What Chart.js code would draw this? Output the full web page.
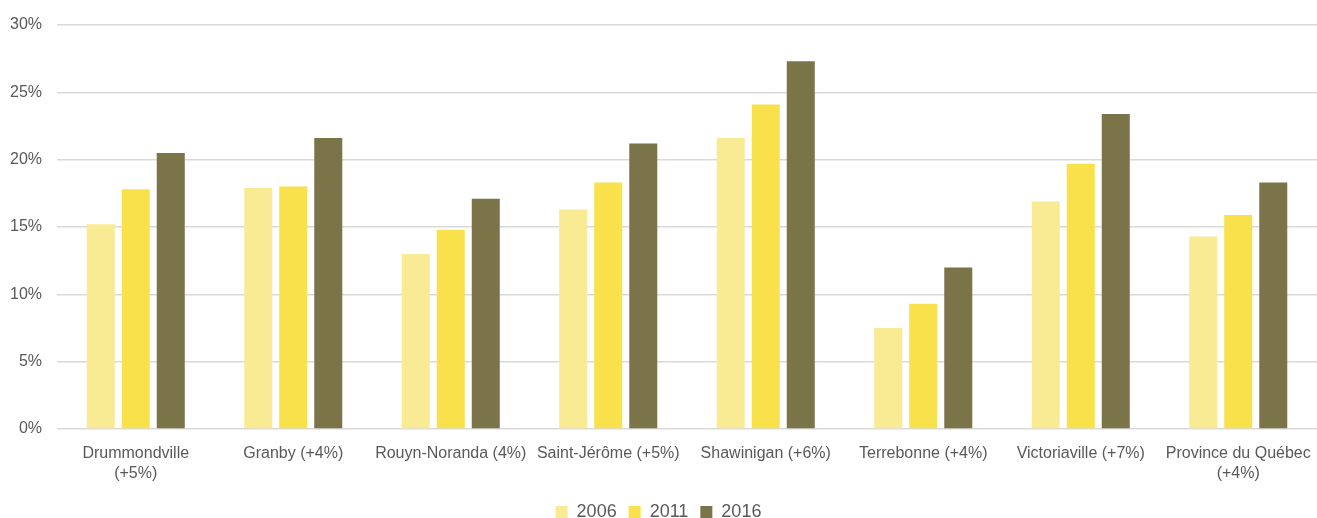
<!DOCTYPE html>
<html>
<head>
<meta charset="utf-8">
<script src="https://cdn.jsdelivr.net/npm/chart.js@4"></script>
<style>
  body { margin: 0; background: #fff; }
  #wrap { width: 1317px; height: 518px; }
</style>
</head>
<body>
<div id="wrap"><canvas id="chart"></canvas></div>
<script>
// Categories (multi-line labels are arrays)
const villes = [
  ["Drummondville", "(+5%)"],
  "Granby (+4%)",
  "Rouyn-Noranda (4%)",
  "Saint-Jérôme (+5%)",
  "Shawinigan (+6%)",
  "Terrebonne (+4%)",
  "Victoriaville (+7%)",
  ["Province du Québec", "(+4%)"]
];

// Percentages per year
const annee2006 = [15.2, 17.9, 13.0, 16.3, 21.6, 7.5, 16.9, 14.3];
const annee2011 = [17.8, 18.0, 14.8, 18.3, 24.1, 9.3, 19.7, 15.9];
const annee2016 = [20.5, 21.6, 17.1, 21.2, 27.3, 12.0, 23.4, 18.3];

const yTicks = [0, 5, 10, 15, 20, 25, 30];

const fontFamily = "'Liberation Sans', Arial, sans-serif";
const font = { family: fontFamily, size: 16, lineHeight: 1.25 };
const textColor = "#595959";

const ctx = document.getElementById("chart").getContext("2d");

new Chart(ctx, {
  type: "bar",
  data: {
    labels: villes,
    datasets: [
      { label: "2006", data: annee2006, backgroundColor: "#F9EA94" },
      { label: "2011", data: annee2011, backgroundColor: "#F9E14B" },
      { label: "2016", data: annee2016, backgroundColor: "#7B7448" }
    ]
  },
  options: {
    responsive: true,
    maintainAspectRatio: false,
    animation: false,
    datasets: {
      bar: { categoryPercentage: 0.667, barPercentage: 0.8 }
    },
    // negative bottom padding lets the legend sit close to the edge
    layout: { padding: { top: 11, right: 0, bottom: -13, left: 0 } },
    plugins: {
      tooltip: { enabled: false },
      legend: {
        position: "bottom",
        labels: {
          boxWidth: 12,
          boxHeight: 12,
          padding: 12,
          color: textColor,
          font: { family: fontFamily, size: 18 }
        }
      }
    },
    scales: {
      x: {
        grid: { display: false },
        border: { display: false },
        ticks: {
          color: textColor,
          font: font,
          maxRotation: 0,
          autoSkip: false,
          padding: 7
        },
        afterFit: (scale) => {
          scale.paddingLeft = 0;
          scale.paddingRight = 0;
        }
      },
      y: {
        min: 0,
        max: 30,
        afterBuildTicks: (scale) => {
          scale.ticks = yTicks.map((v) => ({ value: v }));
        },
        grid: { color: "#D9D9D9", lineWidth: 1.5, drawTicks: false },
        border: { display: false },
        ticks: {
          color: textColor,
          font: font,
          padding: 15,
          callback: (v) => v + "%"
        },
        afterFit: (scale) => {
          scale.width = 57;
        }
      }
    }
  }
});
</script>
</body>
</html>
